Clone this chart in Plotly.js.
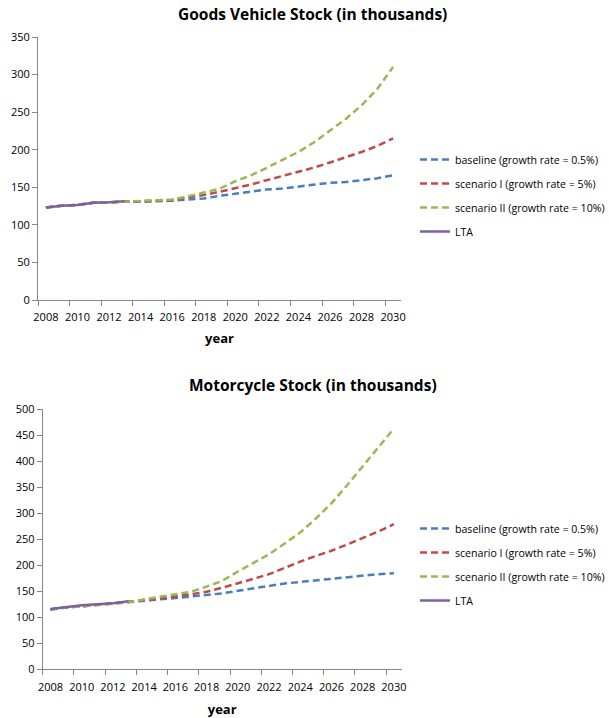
<!DOCTYPE html>
<html>
<head>
<meta charset="utf-8">
<script src="https://cdn.plot.ly/plotly-3.0.1.min.js"></script>
<style>html,body{margin:0;padding:0;background:#fff;}#chart{width:609px;height:718px;}</style>
</head>
<body>
<div id="chart"></div>
<script>
const years = [2008,2009,2010,2011,2012,2013,2014,2015,2016,2017,2018,2019,2020,2021,2022,2023,2024,2025,2026,2027,2028,2029,2030];
const ltaYears = [2008,2009,2010,2011,2012,2013];
const xTickLabels = ["2008","2010","2012","2014","2016","2018","2020","2022","2024","2026","2028","2030"];
const seriesNames = ["baseline (growth rate = 0.5%)","scenario I (growth rate = 5%)","scenario II (growth rate = 10%)","LTA"];

// Goods vehicle stock (thousands)
const goodsBaseline  = [123,125.5,126.5,129.5,130,131,130.7,131,132,133.8,135,138.7,141.8,144,147,148.4,150.6,153.7,156,157,159.5,162,166];
const goodsScenario1 = [123,125.5,126.5,129.5,130,131,131.5,132,133,136.5,139.6,144,148.4,153.7,159.5,165,170.6,176.3,183,189.6,197,205,215];
const goodsScenario2 = [123,125.5,126.5,129.5,130,131,131.6,132.5,133.8,138,143,148,158,166,176,186,197,210,225,241,259,281,310];
const goodsLTA       = [123,125.5,126.5,129.5,130,131.5];

// Motorcycle stock (thousands)
const motoBaseline  = [115,119,121,124,126,129,132,134.6,137,140,142,146,151,156,160,165,168,171,175,177,180,183,184.6];
const motoScenario1 = [115,119,121,124,126,129,133,136,140,144,149,157,165,174,183,195.5,207,218,228,240,252,265,279];
const motoScenario2 = [115,119,121,124,126,129,134.6,139,144,149,159,170,188,204,221,242,263,290,319,354,390,428,463];
const motoLTA       = [116,120,123,125,127,131];

const colors = ["#4a7ebb","#be4b48","#98b954","#7d60a0"];
const dashPat = "7px,4px";

function mk(x, y, i, xa, ya, leg) {
  return {x: x, y: y, type: "scatter", mode: "lines", name: seriesNames[i],
    xaxis: xa, yaxis: ya, legend: leg, legendgroup: leg + "_" + i,
    line: {color: colors[i], width: 2.5, dash: i === 3 ? "solid" : dashPat}};
}
const data = [
  mk(years, goodsBaseline, 0, "x", "y", "legend"), mk(years, goodsScenario1, 1, "x", "y", "legend"),
  mk(years, goodsScenario2, 2, "x", "y", "legend"), mk(ltaYears, goodsLTA, 3, "x", "y", "legend"),
  mk(years, motoBaseline, 0, "x2", "y2", "legend2"), mk(years, motoScenario1, 1, "x2", "y2", "legend2"),
  mk(years, motoScenario2, 2, "x2", "y2", "legend2"), mk(ltaYears, motoLTA, 3, "x2", "y2", "legend2")
];

const W = 609, H = 718;
const tickFont = {family: "Open Sans, sans-serif", size: 11, color: "#000"};
const axisColor = "#868686";
const boundaryTicks = xTickLabels.map(function(t){return Number(t) - 0.5;});

function xAxis(domain, anchor, standoff) {
  return {domain: domain, anchor: anchor, range: [2007.5, 2030.5], automargin: false,
    tickvals: xTickLabels.map(Number), ticktext: xTickLabels,
    ticks: "", showgrid: false, zeroline: false, showline: true, linecolor: axisColor, linewidth: 1,
    tickfont: tickFont, ticklabelstandoff: 7,
    minor: {tickvals: boundaryTicks, ticks: "outside", ticklen: 5, tickcolor: axisColor, showgrid: false},
    title: {text: "year", font: {family: "Open Sans, sans-serif", size: 13, color: "#000", weight: "bold"}, standoff: standoff}};
}
function yAxis(domain, anchor, maxV) {
  return {domain: domain, anchor: anchor, range: [0, maxV], dtick: 50, automargin: false,
    ticks: "outside", ticklen: 5, tickcolor: axisColor, showgrid: false, zeroline: false,
    showline: true, linecolor: axisColor, linewidth: 1, tickfont: tickFont};
}
const legendBase = {xref: "container", yref: "container", xanchor: "left", yanchor: "middle",
  font: {family: "Open Sans, sans-serif", size: 10.6, color: "#000"},
  tracegroupgap: 5, itemwidth: 30, bgcolor: "rgba(0,0,0,0)"};

const layout = {
  width: W, height: H, margin: {l: 0, r: 0, t: 0, b: 0, autoexpand: false},
  paper_bgcolor: "#fff", plot_bgcolor: "#fff", showlegend: true,
  xaxis: xAxis([38/W, 401/W], "y", 10),
  yaxis: yAxis([1-300/H, 1-37/H], "x", 350),
  xaxis2: xAxis([42.7/W, 401.7/W], "y2", 12),
  yaxis2: yAxis([1-669.3/H, 1-409.3/H], "x2", 500),
  legend: Object.assign({x: 415/W, y: 1-195.5/H}, legendBase),
  legend2: Object.assign({x: 415/W, y: 1-564.5/H}, legendBase),
  annotations: [
    {text: "Goods Vehicle Stock (in thousands)", xref: "paper", yref: "paper", x: 312/W, y: 1-14/H,
     xanchor: "center", yanchor: "middle", showarrow: false, font: {family: "Open Sans, sans-serif", size: 15.5, color: "#000", weight: "bold"}},
    {text: "Motorcycle Stock (in thousands)", xref: "paper", yref: "paper", x: 312.5/W, y: 1-385/H,
     xanchor: "center", yanchor: "middle", showarrow: false, font: {family: "Open Sans, sans-serif", size: 15.5, color: "#000", weight: "bold"}}
  ]
};
Plotly.newPlot("chart", data, layout, {displayModeBar: false, staticPlot: true});
</script>
</body>
</html>
